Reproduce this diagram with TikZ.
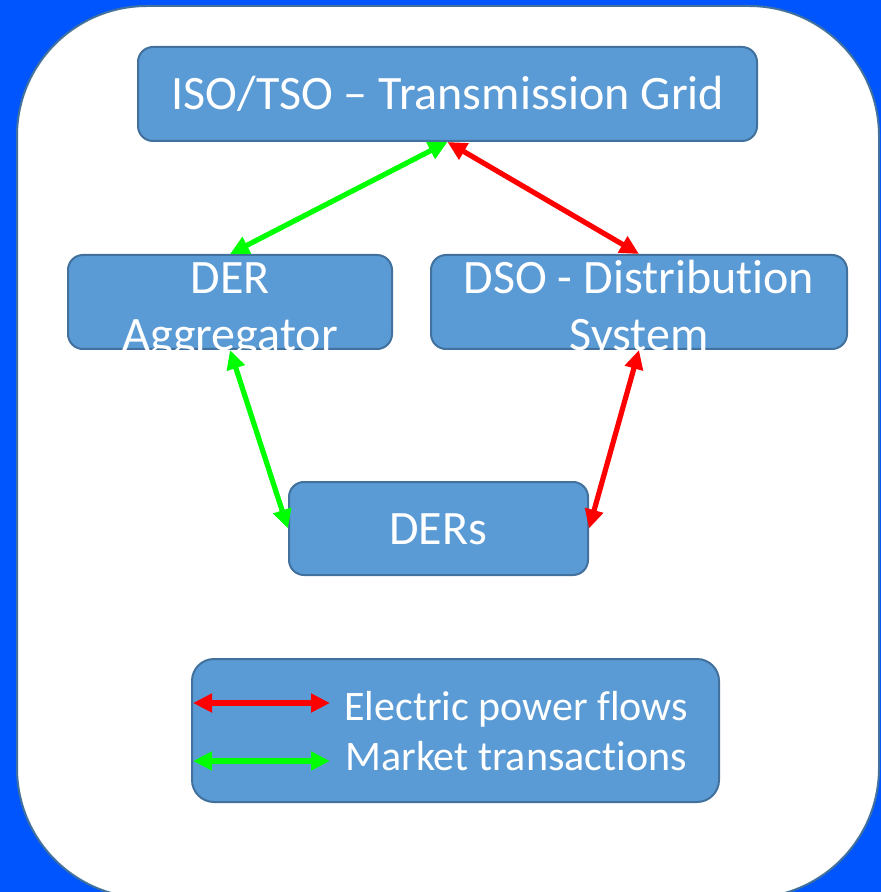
\documentclass[tikz,border=0pt]{standalone}
\usepackage{fontspec}
\setmainfont{Carlito}[Ligatures=NoCommon]
\usetikzlibrary{arrows.meta}

\definecolor{sfondo}{RGB}{0,85,255}
\definecolor{riempi}{RGB}{91,155,213}
\definecolor{bordo}{RGB}{65,113,156}
\definecolor{verde}{RGB}{0,255,0}
\definecolor{rosso}{RGB}{255,0,0}

\tikzset{
  box/.style={draw=bordo, fill=riempi, line width=1pt, rounded corners=7.5pt, inner sep=0pt},
  testo/.style={text=white, inner sep=0pt, align=center, font=\fontsize{24}{28.5}\selectfont},
  leg/.style={text=white, inner sep=0pt, font=\fontsize{21}{25}\selectfont},
  flow/.style={draw=rosso, line width=2.6pt, {Triangle[length=9.5pt,width=9pt]}-{Triangle[length=9.5pt,width=9pt]}},
  market/.style={draw=verde, line width=2.6pt, {Triangle[length=9.5pt,width=9pt]}-{Triangle[length=9.5pt,width=9pt]}}
}

\begin{document}
\begin{tikzpicture}[x=0.5pt,y=-0.5pt]
        \useasboundingbox (0,0) rectangle (881,892);
        \fill[sfondo] (0,0) rectangle (881,892);
        \draw[bordo, fill=white, line width=1pt, rounded corners=65pt] (17,6) rectangle (879,898);

        % blocchi
        \node[box, minimum width=309.5pt, minimum height=47pt] (iso) at (447.5,94) {};
        \node[box, minimum width=162pt, minimum height=47pt] (agg) at (230,302) {};
        \node[box, minimum width=208pt, minimum height=47pt] (dso) at (639,302) {};
        \node[box, minimum width=149.5pt, minimum height=46.5pt] (ders) at (438.5,528.5) {};

        % testi
        \node[testo, anchor=base] (isotxt) at (448,110) {ISO/TSO – Transmission Grid};
        \node[testo, anchor=north] (aggtxt) at (230,262) {DER\\Aggregator};
        \node[testo, anchor=north] (dsotxt) at (639,260) {DSO - Distribution\\System};
        \node[testo, anchor=base] (derstxt) at (438,544) {DERs};

        % frecce
        \draw[market] (iso.south) -- (agg.north);
        \draw[flow] (iso.south) -- (dso.north);
        \draw[market] (agg.south) -- (ders.west);
        \draw[flow] (dso.south) -- (ders.east);

        % legenda
        \node[box, rounded corners=11pt, minimum width=263.5pt, minimum height=71.5pt] (legenda) at (455.5,730.5) {};
        \coordinate (r1) at (193,703);
        \coordinate (r2) at (330,703);
        \coordinate (v1) at (193,761);
        \coordinate (v2) at (330,761);
        \draw[flow, line width=3pt] (r1) -- (r2);
        \draw[market, line width=3pt] (v1) -- (v2);
        \node[leg, anchor=base west] (legflow) at (344,720) {Electric power flows};
        \node[leg, anchor=base west] (legmkt) at (345,770) {Market transactions};
    \end{tikzpicture}
\end{document}
